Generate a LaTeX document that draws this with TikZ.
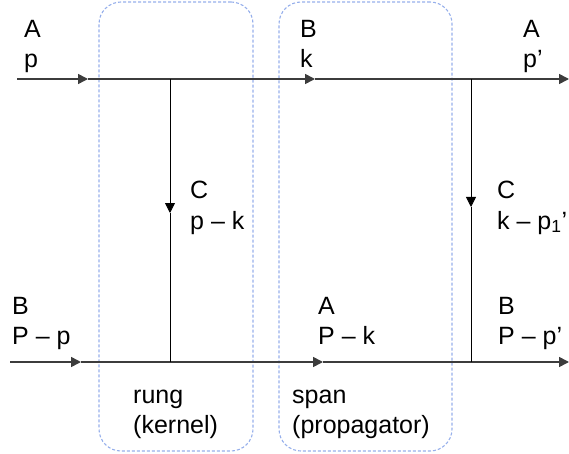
\documentclass[tikz,border=0pt]{standalone}
\usepackage{fontspec}
\setmainfont{Liberation Sans}
\usepackage{tikz}
\usetikzlibrary{positioning, arrows.meta}
\definecolor{azul_caja}{RGB}{150,175,235}
\definecolor{gris_linea}{RGB}{60,60,60}
\tikzset{
    caja_punteada/.style={rectangle, draw=azul_caja, line width=1.1pt, dash pattern=on 3pt off 2pt, rounded corners=22pt, inner sep=0pt},
    etiqueta/.style={anchor=base west, inner sep=0pt, align=left, font=\fontsize{25}{30}\selectfont},
    linea_prop/.style={-{Triangle[length=10pt, width=10pt]}, draw=gris_linea, line width=1.6pt},
    linea_int/.style={draw=black, line width=0.8pt},
    flecha_int/.style={linea_int, -{Triangle[length=10pt, width=10pt]}}
}

\begin{document}
\begin{tikzpicture}[x=1pt, y=-1pt]
    \useasboundingbox (0,0) rectangle (569,454);

    % 1. Cajas punteadas (rung y span)
    \node[caja_punteada, minimum width=154pt, minimum height=449pt] (caja_rung) at (176,226.5) {};
    \node[caja_punteada, minimum width=173pt, minimum height=449pt] (caja_span) at (365.5,226.5) {};

    % 2. Puntos de las lineas
    \coordinate (sup_ini) at (17,79);
    \coordinate (sup_f1) at (88,79);
    \coordinate (sup_v1) at (170,79);
    \coordinate (sup_f2) at (315,79);
    \coordinate (sup_v2) at (471,79);
    \coordinate (sup_fin) at (569,79);

    \coordinate (inf_ini) at (10,362);
    \coordinate (inf_f1) at (81,362);
    \coordinate (inf_v1) at (170,362);
    \coordinate (inf_f2) at (323,362);
    \coordinate (inf_v2) at (471,362);
    \coordinate (inf_fin) at (569,362);

    \coordinate (mid_v1) at (170,213);
    \coordinate (mid_v2) at (471,207);

    % --- LINEAS ---

    % Linea superior
    \draw[linea_prop] (sup_ini) -- (sup_f1);
    \draw[linea_prop] (sup_f1) -- (sup_f2);
    \draw[linea_prop] (sup_f2) -- (sup_fin);

    % Linea inferior
    \draw[linea_prop] (inf_ini) -- (inf_f1);
    \draw[linea_prop] (inf_f1) -- (inf_f2);
    \draw[linea_prop] (inf_f2) -- (inf_fin);

    % Travesanos verticales
    \draw[flecha_int] (sup_v1) -- (mid_v1);
    \draw[linea_int] (mid_v1) -- (inf_v1);
    \draw[flecha_int] (sup_v2) -- (mid_v2);
    \draw[linea_int] (mid_v2) -- (inf_v2);

    % --- ETIQUETAS (ancla en la linea base de abajo) ---
    \node[etiqueta] (et_a1) at (24,68) {A\\p};
    \node[etiqueta] (et_b1) at (300,68) {B\\k};
    \node[etiqueta] (et_a2) at (523,68) {A\\p’};
    \node[etiqueta] (et_c1) at (190,229) {C\\p – k};
    \node[etiqueta] (et_c2) at (497,229) {C\\k – p\textsubscript{1}’};
    \node[etiqueta] (et_b2) at (12,344) {B\\P – p};
    \node[etiqueta] (et_a3) at (318,344) {A\\P – k};
    \node[etiqueta] (et_b3) at (498,344) {B\\P – p’};
    \node[etiqueta] (et_rung) at (133,433) {rung\\(kernel)};
    \node[etiqueta] (et_span) at (292,433) {span\\(propagator)};
\end{tikzpicture}
\end{document}
